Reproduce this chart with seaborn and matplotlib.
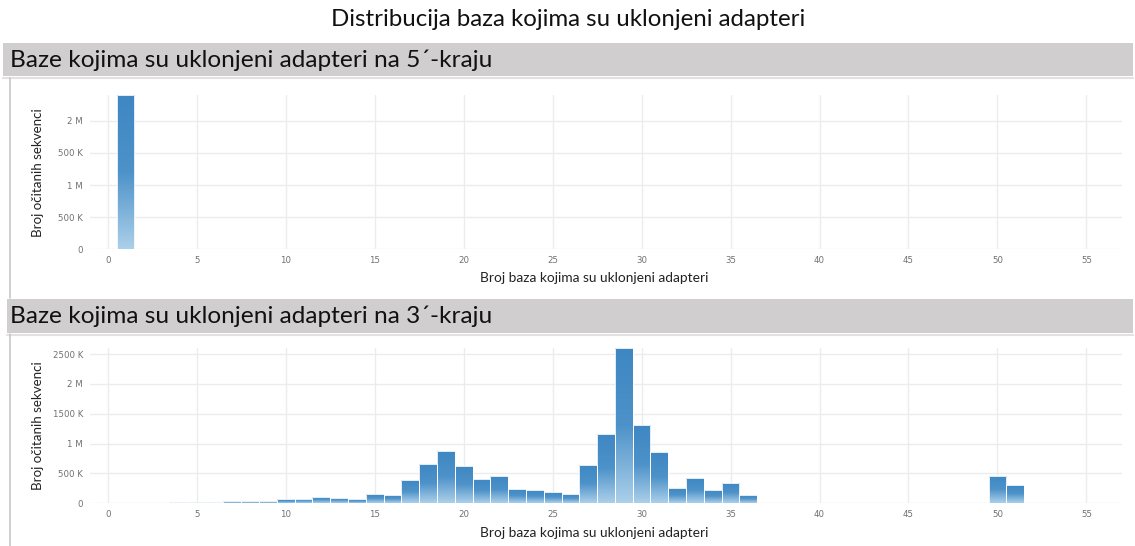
import numpy as np
import pandas as pd
import matplotlib
matplotlib.use("Agg")
import matplotlib.pyplot as plt
from matplotlib.colors import LinearSegmentedColormap
from matplotlib.patches import Rectangle
from matplotlib.lines import Line2D
from matplotlib.ticker import MultipleLocator
import seaborn as sns

# ---- data -------------------------------------------------------------
# 5' end: trimmed base count -> number of reads
lengths_5 = [1]
reads_5 = [2_400_000]

# 3' end: trimmed base count -> number of reads
lengths_3 = [1, 2, 3, 4, 5, 6, 7, 8, 9, 10, 11, 12, 13, 14, 15, 16, 17, 18,
             19, 20, 21, 22, 23, 24, 25, 26, 27, 28, 29, 30, 31, 32, 33, 34,
             35, 36, 50, 51]
reads_3 = [5_000, 5_000, 8_000, 17_000, 22_000, 22_000, 34_000, 34_000,
           40_000, 67_000, 70_000, 106_000, 89_000, 67_000, 157_000, 135_000,
           392_000, 667_000, 880_000, 623_000, 409_000, 450_000, 236_000,
           219_000, 196_000, 157_000, 640_000, 1_167_000, 2_598_000,
           1_306_000, 859_000, 263_000, 420_000, 224_000, 340_000, 135_000,
           460_000, 303_000]

yticks_5 = [0, 500_000, 1_000_000, 1_500_000, 2_000_000]
ylabels_5 = ["0", "500 K", "1 M", "500 K", "2 M"]
yticks_3 = [0, 500_000, 1_000_000, 1_500_000, 2_000_000, 2_500_000]
ylabels_3 = ["0", "500 K", "1 M", "1500 K", "2 M", "2500 K"]
xticks = list(range(0, 56, 5))

fig_title = "Distribucija baza kojima su uklonjeni adapteri"
panel_titles = ["Baze kojima su uklonjeni adapteri na 5\u00b4-kraju",
                "Baze kojima su uklonjeni adapteri na 3\u00b4-kraju"]
xlabel = "Broj baza kojima su uklonjeni adapteri"
ylabel = "Broj očitanih sekvenci"

# ---- style ------------------------------------------------------------
sns.set_theme(style="white")
plt.rcParams["font.family"] = ["Lato", "DejaVu Sans"]

W, H = 1135, 546
fig = plt.figure(figsize=(W / 100, H / 100), dpi=100)
fig.patch.set_facecolor("white")


def fx(x):
    return x / W


def fy(y):
    return 1 - y / H


bar_cmap = LinearSegmentedColormap.from_list(
    "bar_fade", [(0.0, "#acd0ea"), (0.5, "#4d92c9"), (1.0, "#3e87c3")])
gradient = np.linspace(0, 1, 256).reshape(-1, 1)


def draw_panel(ax, lengths, reads, yticks, ylabels, top):
    df = pd.DataFrame({"baze": lengths, "broj": reads})
    sns.histplot(data=df, x="baze", weights="broj", discrete=True, ax=ax,
                 color="#3e87c3", edgecolor="white", linewidth=0.6,
                 alpha=1.0)
    # vertical fade inside every bar
    for p in list(ax.patches):
        x0, y0 = p.get_x(), p.get_y()
        w, h = p.get_width(), p.get_height()
        if h <= 0:
            continue
        im = ax.imshow(gradient, cmap=bar_cmap, origin="lower", aspect="auto",
                       extent=(x0, x0 + w, y0, y0 + h), zorder=2,
                       interpolation="bicubic")
        im.set_clip_path(p)
        p.set_facecolor("none")
        p.set_zorder(3)
    ax.set_xlim(-1, 57)
    ax.set_ylim(0, top)
    ax.set_xticks(xticks)
    ax.set_xticklabels([str(t) for t in xticks])
    ax.set_yticks(yticks)
    ax.set_yticklabels(ylabels)
    ax.xaxis.set_minor_locator(MultipleLocator(2.5))
    ax.yaxis.set_minor_locator(MultipleLocator(250_000))
    ax.grid(True, which="major", color="#ececec", linewidth=1.0)
    ax.set_axisbelow(True)
    for s in ax.spines.values():
        s.set_visible(False)
    ax.tick_params(axis="both", which="major", length=0, labelsize=6.2,
                   labelcolor="#707070", pad=5,
                   labelfontfamily="DejaVu Sans")
    ax.tick_params(axis="both", which="minor", length=2.5, width=0.6,
                   color="#e4e4e4", direction="out")
    ax.set_xlabel(xlabel, fontsize=9.9, color="#222222")
    ax.xaxis.set_label_coords(0.489, -0.15)
    ax.set_ylabel(ylabel, fontsize=9.6, color="#222222")
    ax.yaxis.set_label_coords(-0.045, 0.5)
    ax.set_facecolor("white")


ax_top = fig.add_axes([fx(90), fy(249.3), fx(1122) - fx(90),
                       fy(95) - fy(249.3)])
ax_bot = fig.add_axes([fx(90), fy(503.3), fx(1122) - fx(90),
                       fy(348.3) - fy(503.3)])

draw_panel(ax_top, lengths_5, reads_5, yticks_5, ylabels_5, max(reads_5))
draw_panel(ax_bot, lengths_3, reads_3, yticks_3, ylabels_3, max(reads_3))

# ---- figure title, panel headers and frames ---------------------------
fig.text(fx(568), fy(19), fig_title, ha="center", va="center",
         fontsize=17.3, color="#111111")

headers = [(3, 43, 76, 10), (7, 299, 333, 10)]
for (xl, yt, yb, tx), title in zip(headers, panel_titles):
    fig.add_artist(Rectangle((fx(xl), fy(yb)), fx(1133) - fx(xl),
                             fy(yt) - fy(yb), transform=fig.transFigure,
                             facecolor="#d0cece", edgecolor="none", zorder=0))
    fig.add_artist(Line2D([fx(xl), fx(1133)], [fy(yb + 2), fy(yb + 2)],
                          transform=fig.transFigure, color="#e2e2e2",
                          linewidth=1.5, zorder=0))
    fig.text(fx(tx), fy((yt + yb) / 2 + 0.5), title, ha="left",
             va="center", fontsize=17.6, color="#111111")

# left frame lines of the two panels
fig.add_artist(Line2D([fx(10), fx(10)], [fy(78), fy(298)],
                      transform=fig.transFigure, color="#c8c8c8",
                      linewidth=1.2, zorder=0))
fig.add_artist(Line2D([fx(10), fx(10)], [fy(334), fy(546)],
                      transform=fig.transFigure, color="#c8c8c8",
                      linewidth=1.2, zorder=0))

fig.savefig("out.png", dpi=100)
